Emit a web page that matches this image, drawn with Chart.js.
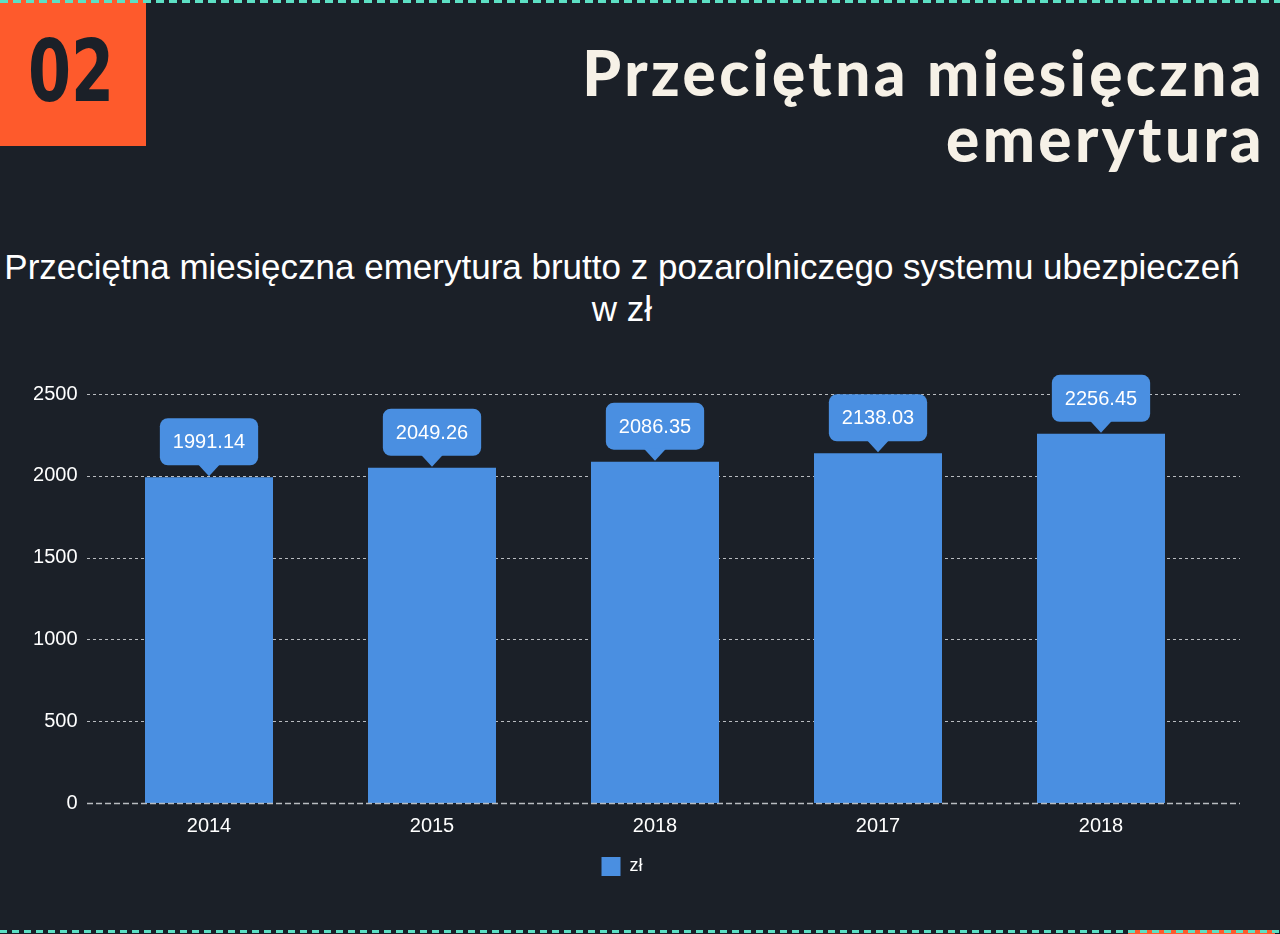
<!DOCTYPE html>
<html>
<head>
<meta charset="utf-8">
<script src="https://cdn.jsdelivr.net/npm/chart.js@4.4.0/dist/chart.umd.min.js"></script>
<style>
  html, body { margin: 0; padding: 0; }
  body { width: 1280px; height: 934px; background: #1b2028; position: relative; overflow: hidden; font-family: "Liberation Sans", Arial, sans-serif; }
  .dash-top { position: absolute; left: 0; top: 0; width: 1280px; height: 3px; z-index: 3;
    background: repeating-linear-gradient(90deg, #5de0c4 0 8px, transparent 8px 13px); }
  .dash-bottom { position: absolute; left: 0; top: 930px; width: 1280px; height: 3px; z-index: 3;
    background: repeating-linear-gradient(90deg, #5de0c4 0 7px, transparent 7px 12px); }
  .orange-strip { position: absolute; left: 1128px; top: 930px; width: 147px; height: 4px; background: #fe5a2c; z-index: 2; }
  .badge { position: absolute; left: 0; top: 0; width: 146px; height: 146px; background: #fe5a2c; }
  .badge span { position: absolute; left: 0; width: 142px; top: 21px; text-align: center;
    font-family: "DejaVu Sans", sans-serif; font-weight: bold; font-size: 86px; line-height: 100px; color: #1b2028;
    transform: scaleX(0.72); transform-origin: 71px 50%; }
  .head { position: absolute; right: 15px; top: 39px; text-align: right; color: #f6f1e7;
    font-family: Lato, "DejaVu Sans", sans-serif; font-weight: 900; font-size: 62px; line-height: 66px; letter-spacing: 3.4px; }
  .sub { position: absolute; left: 0; width: 1244px; top: 246px; text-align: center; color: #fff;
    font-size: 35px; line-height: 42px; }
  #wrap { position: absolute; left: 0; top: 340px; width: 1244px; height: 580px; }
</style>
</head>
<body>
<div class="dash-top"></div>
<div class="badge"><span>02</span></div>
<div class="head">Przeciętna miesięczna<br>emerytura</div>
<div class="sub">Przeciętna miesięczna emerytura brutto z pozarolniczego systemu ubezpieczeń<br>w zł</div>
<div id="wrap"><canvas id="chart"></canvas></div>
<div class="orange-strip"></div>
<div class="dash-bottom"></div>
<script>
// dane
const years = ['2014', '2015', '2018', '2017', '2018'];
const pension = [1991.14, 2049.26, 2086.35, 2138.03, 2256.45];
const seriesName = 'zł';

const barBlue = '#4a8fe1';

// linie siatki przerywane, szersze niz obszar wykresu
const gridPlugin = {
    id: 'dashGrid',
    beforeDatasetsDraw(chart) {
        const ctx = chart.ctx;
        const y = chart.scales.y;
        ctx.save();
        ctx.strokeStyle = '#b9bcc0';
        ctx.lineWidth = 1;
        ctx.setLineDash([3, 3]);
        y.ticks.forEach(t => {
            if (t.value === 0) return;
            const py = Math.round(y.getPixelForValue(t.value)) + 0.5;
            ctx.beginPath();
            ctx.moveTo(87, py);
            ctx.lineTo(1240, py);
            ctx.stroke();
        });
        ctx.restore();
    },
    afterDatasetsDraw(chart) {
        const ctx = chart.ctx;
        const py = Math.round(chart.scales.y.getPixelForValue(0)) + 0.5;
        ctx.save();
        ctx.strokeStyle = '#b9bcc0';
        ctx.lineWidth = 1.5;
        ctx.setLineDash([6, 3]);
        ctx.beginPath();
        ctx.moveTo(87, py);
        ctx.lineTo(1240, py);
        ctx.stroke();
        ctx.restore();
    }
};

// dymki z wartosciami nad slupkami
const calloutPlugin = {
    id: 'callouts',
    afterDatasetsDraw(chart) {
        const ctx = chart.ctx;
        const meta = chart.getDatasetMeta(0);
        ctx.save();
        ctx.font = '20px "Liberation Sans", Arial, sans-serif';
        ctx.textAlign = 'center';
        ctx.textBaseline = 'middle';
        meta.data.forEach((bar, i) => {
            const text = pension[i].toFixed(2);
            const w = ctx.measureText(text).width + 26;
            const h = 47;
            const tip = bar.y - 1;
            const bottom = tip - 11;
            const top = bottom - h;
            const left = bar.x - w / 2;
            ctx.fillStyle = barBlue;
            ctx.beginPath();
            ctx.roundRect(left, top, w, h, 8);
            ctx.fill();
            ctx.beginPath();
            ctx.moveTo(bar.x - 11, bottom - 1);
            ctx.lineTo(bar.x + 11, bottom - 1);
            ctx.lineTo(bar.x, tip);
            ctx.closePath();
            ctx.fill();
            ctx.fillStyle = '#ffffff';
            ctx.fillText(text, bar.x, top + h / 2 + 1);
        });
        ctx.restore();
    }
};

const ctx = document.getElementById('chart').getContext('2d');
new Chart(ctx, {
    type: 'bar',
    data: {
        labels: years,
        datasets: [{
            label: seriesName,
            data: pension,
            backgroundColor: barBlue,
            borderWidth: 0,
            barPercentage: 0.574,
            categoryPercentage: 1
        }]
    },
    options: {
        responsive: true,
        maintainAspectRatio: false,
        animation: false,
        layout: { padding: { left: 0, right: 0, top: 54, bottom: 34 } },
        scales: {
            y: {
                min: 0,
                max: 2500,
                ticks: { stepSize: 500, color: '#ffffff', padding: 20, font: { size: 20, family: '"Liberation Sans", Arial' },
                    callback: v => String(v) },
                grid: { display: false, drawTicks: false },
                border: { display: false },
                afterFit(scale) { scale.width = 97.5; }
            },
            // pusta os po prawej, tylko odstep
            yRight: {
                position: 'right',
                ticks: { display: false },
                grid: { display: false, drawTicks: false },
                border: { display: false },
                afterFit(scale) { scale.width = 31.5; }
            },
            x: {
                ticks: { color: '#ffffff', padding: 11, font: { size: 20, family: '"Liberation Sans", Arial' } },
                grid: { display: false, drawTicks: false },
                border: { display: false },
                afterFit(scale) { scale.height = 44; }
            }
        },
        plugins: {
            legend: {
                position: 'bottom',
                labels: { color: '#ffffff', boxWidth: 19, boxHeight: 19, padding: 10, font: { size: 18, family: '"Liberation Sans", Arial' } }
            },
            tooltip: { enabled: false }
        }
    },
    plugins: [gridPlugin, calloutPlugin]
});
</script>
</body>
</html>
